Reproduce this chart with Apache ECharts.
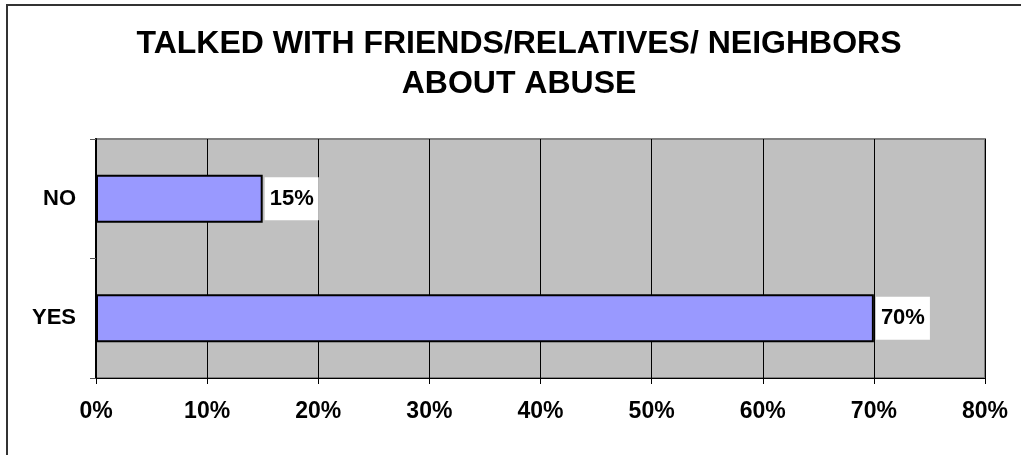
<!DOCTYPE html>
<html>
<head>
<meta charset="utf-8">
<script src="https://cdn.jsdelivr.net/npm/echarts@6/dist/echarts.min.js"></script>
<style>
  html, body { margin: 0; padding: 0; background: #fff; }
  #chart { width: 1021px; height: 455px; }
</style>
</head>
<body>
<div id="chart"></div>
<script>
// Survey answers, bottom to top on the category axis
const categories = ['YES', 'NO'];
const shares = [70, 15];
const xTicks = [0, 10, 20, 30, 40, 50, 60, 70, 80];

const FONT = '"Liberation Sans", Arial, sans-serif';

const chart = echarts.init(document.getElementById('chart'));
chart.setOption({
  backgroundColor: '#ffffff',
  animation: false,
  title: {
    text: 'TALKED WITH FRIENDS/RELATIVES/ NEIGHBORS\nABOUT ABUSE',
    left: 519,
    top: 24,
    padding: 0,
    textAlign: 'center',
    textStyle: {
      fontFamily: FONT,
      fontWeight: 'bold',
      fontSize: 32,
      lineHeight: 40,
      color: '#000'
    }
  },
  graphic: [{
    type: 'rect',
    shape: { x: 7, y: 5, width: 1100, height: 600 },
    style: { fill: 'none', stroke: '#333', lineWidth: 2 },
    silent: true
  }],
  grid: {
    left: 96, right: 36, top: 139, bottom: 77,
    show: true,
    backgroundColor: '#C0C0C0',
    borderColor: '#808080',
    borderWidth: 2
  },
  xAxis: {
    type: 'value',
    min: xTicks[0],
    max: xTicks[xTicks.length - 1],
    interval: 10,
    axisLine: { show: true, lineStyle: { color: '#000', width: 1 } },
    axisTick: { show: true, length: 6, lineStyle: { color: '#000' } },
    splitLine: { show: true, lineStyle: { color: '#000', width: 1 } },
    axisLabel: {
      margin: 22,
      formatter: v => v + '%',
      fontFamily: FONT,
      fontWeight: 'bold',
      fontSize: 23,
      color: '#000'
    }
  },
  yAxis: {
    type: 'category',
    data: categories,
    axisLine: { show: true, lineStyle: { color: '#000', width: 2 } },
    axisTick: { show: true, length: 6, lineStyle: { color: '#555' } },
    axisLabel: {
      margin: 20,
      fontFamily: FONT,
      fontWeight: 'bold',
      fontSize: 22,
      color: '#000'
    }
  },
  series: [{
    type: 'bar',
    data: shares,
    barWidth: '40%',
    itemStyle: { color: '#9999FF', borderColor: '#000', borderWidth: 2 },
    label: {
      show: true,
      position: 'right',
      distance: 2,
      formatter: p => p.value + '%',
      fontFamily: FONT,
      fontWeight: 'bold',
      fontSize: 22,
      lineHeight: 23,
      color: '#000',
      backgroundColor: '#ffffff',
      padding: [10, 5, 10, 5]
    }
  }]
});
</script>
</body>
</html>
